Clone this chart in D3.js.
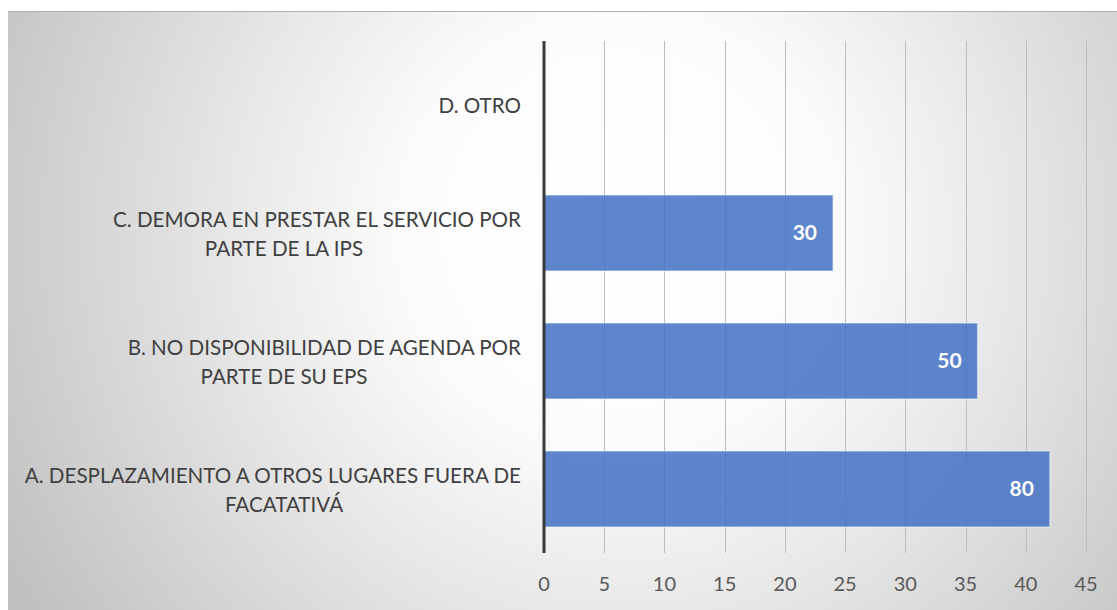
<!DOCTYPE html>
<html>
<head>
<meta charset="utf-8">
<script src="https://cdn.jsdelivr.net/npm/d3@7"></script>
<style>
  html, body { margin: 0; padding: 0; background: #fff; }
  svg { display: block; font-family: Lato, "Open Sans", sans-serif; }
</style>
</head>
<body>
<div id="chart"></div>
<script>
// categories, top to bottom as drawn
const categories = [
  ["D. OTRO"],
  ["C. DEMORA EN PRESTAR EL SERVICIO POR", "PARTE DE LA IPS"],
  ["B. NO DISPONIBILIDAD DE AGENDA POR", "PARTE DE SU EPS"],
  ["A. DESPLAZAMIENTO A OTROS LUGARES FUERA DE", "FACATATIVÁ"]
];
// bar lengths as drawn on the axis
const values = [0, 24, 36, 42];
// data labels as printed on the bars
const dataLabels = ["", "30", "50", "80"];
const xTicks = [0, 5, 10, 15, 20, 25, 30, 35, 40, 45];

const width = 1117, height = 610;
const plot = {left: 544, right: 1086, top: 41, bottom: 553};

const svg = d3.select('#chart')
  .append('svg')
  .attr('width', width)
  .attr('height', height);

// background with radial shading
const grad = svg.append('defs').append('radialGradient')
  .attr('id', 'bg')
  .attr('gradientUnits', 'userSpaceOnUse')
  .attr('cx', 620).attr('cy', 230).attr('r', 700);
grad.append('stop').attr('offset', '0').attr('stop-color', '#ffffff');
grad.append('stop').attr('offset', '0.3').attr('stop-color', '#fcfcfc');
grad.append('stop').attr('offset', '0.55').attr('stop-color', '#e8e8e8');
grad.append('stop').attr('offset', '1').attr('stop-color', '#c0c0c0');

svg.append('rect')
  .attr('x', 8).attr('y', 11)
  .attr('width', width - 8).attr('height', height - 11)
  .attr('fill', 'url(#bg)');
svg.append('line')
  .attr('x1', 8).attr('x2', width).attr('y1', 11.5).attr('y2', 11.5)
  .attr('stroke', '#b4b4b4');

const x = d3.scaleLinear().domain([0, 45]).range([plot.left, plot.right]);
const y = d3.scaleBand()
  .domain(d3.range(categories.length))
  .range([plot.top, plot.bottom])
  .paddingInner(0.406)
  .paddingOuter(0.203);

// vertical gridlines
svg.append('g')
  .selectAll('line')
  .data(xTicks.slice(1))
  .join('line')
  .attr('x1', d => Math.round(x(d)) + 0.5)
  .attr('x2', d => Math.round(x(d)) + 0.5)
  .attr('y1', plot.top)
  .attr('y2', plot.bottom)
  .attr('stroke', '#bcbcbc')
  .attr('stroke-width', 1);

// bars
svg.append('g')
  .selectAll('rect')
  .data(values)
  .join('rect')
  .attr('x', x(0))
  .attr('y', (d, i) => y(i))
  .attr('width', d => x(d) - x(0))
  .attr('height', y.bandwidth())
  .attr('fill', '#4472c4')
  .attr('fill-opacity', 0.86)
  .attr('stroke', '#ffffff')
  .attr('stroke-opacity', d => d > 0 ? 0.45 : 0)
  .attr('stroke-width', 1.5);

// data labels
svg.append('g')
  .selectAll('text')
  .data(values)
  .join('text')
  .attr('x', d => x(d) - 16)
  .attr('y', (d, i) => y(i) + y.bandwidth() / 2)
  .attr('dy', '0.35em')
  .attr('text-anchor', 'end')
  .attr('fill', '#ffffff')
  .attr('font-size', 21)
  .attr('font-weight', 'bold')
  .text((d, i) => dataLabels[i]);

// vertical axis line
svg.append('line')
  .attr('x1', x(0)).attr('x2', x(0))
  .attr('y1', plot.top).attr('y2', plot.bottom)
  .attr('stroke', '#3a3a3a')
  .attr('stroke-width', 3);

// x tick labels
svg.append('g')
  .selectAll('text')
  .data(xTicks)
  .join('text')
  .attr('x', d => x(d))
  .attr('y', 584)
  .attr('dy', '0.35em')
  .attr('text-anchor', 'middle')
  .attr('fill', '#595959')
  .attr('font-size', 20)
  .text(d => d);

// category labels, first line right aligned, next line centered below
const lineGap = 29;
const cat = svg.append('g')
  .selectAll('g')
  .data(categories)
  .join('g')
  .attr('transform', (d, i) => `translate(0,${y(i) + y.bandwidth() / 2 + 1})`);

cat.each(function(lines) {
  const g = d3.select(this);
  const y0 = -(lines.length - 1) * lineGap / 2;
  lines.forEach((t, k) => {
    g.append('text')
      .attr('x', k === 0 ? 521 : 284)
      .attr('y', y0 + k * lineGap)
      .attr('dy', '0.35em')
      .attr('text-anchor', k === 0 ? 'end' : 'middle')
      .attr('fill', '#404040')
      .attr('font-size', 20.6)
      .text(t);
  });
});
</script>
</body>
</html>
